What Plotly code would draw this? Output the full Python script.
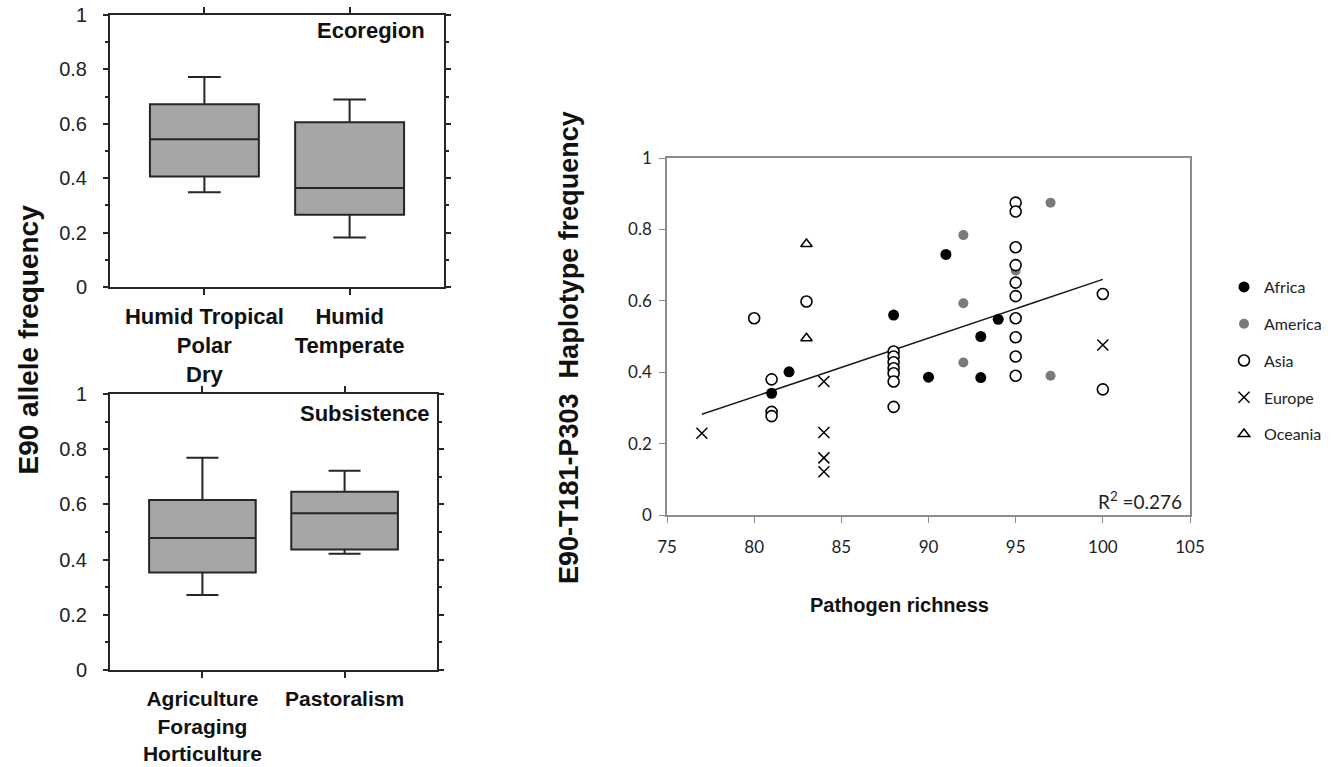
import plotly.graph_objects as go

W, H = 1338, 767

# ---------------- Data ----------------
eco_labels = ["Humid Tropical<br>Polar<br>Dry", "Humid<br>Temperate"]
eco_q1 = [0.406, 0.266]
eco_med = [0.543, 0.364]
eco_q3 = [0.672, 0.606]
eco_lo = [0.348, 0.182]
eco_hi = [0.772, 0.689]

sub_labels = ["Agriculture<br>Foraging<br>Horticulture", "Pastoralism"]
sub_q1 = [0.353, 0.437]
sub_med = [0.478, 0.568]
sub_q3 = [0.616, 0.646]
sub_lo = [0.272, 0.421]
sub_hi = [0.769, 0.722]

africa_x = [81, 82, 88, 90, 91, 93, 93, 94]
africa_y = [0.341, 0.401, 0.560, 0.386, 0.730, 0.500, 0.385, 0.548]

america_x = [92, 92, 92, 95, 97, 97]
america_y = [0.784, 0.593, 0.427, 0.685, 0.875, 0.390]

asia_x = [80, 81, 81, 81, 83, 88, 88, 88, 88, 88, 88, 88,
          95, 95, 95, 95, 95, 95, 95, 95, 95, 95, 100, 100]
asia_y = [0.551, 0.380, 0.289, 0.277, 0.598, 0.458, 0.444, 0.428, 0.411, 0.397, 0.374, 0.303,
          0.875, 0.850, 0.750, 0.700, 0.651, 0.613, 0.551, 0.498, 0.444, 0.390, 0.619, 0.352]

europe_x = [77, 84, 84, 84, 84, 100]
europe_y = [0.229, 0.374, 0.231, 0.160, 0.121, 0.476]

oceania_x = [83, 83]
oceania_y = [0.759, 0.495]

trend_x = [77, 100]
trend_y = [0.282, 0.660]

r2_text = "R<sup>2</sup> =0.276"

# ---------------- Figure ----------------
fig = go.Figure()

BOXFILL = "#a6a6a6"
DARK = "#262626"

fig.add_trace(go.Box(
    x=[0, 1], q1=eco_q1, median=eco_med, q3=eco_q3,
    lowerfence=eco_lo, upperfence=eco_hi,
    xaxis="x", yaxis="y", fillcolor=BOXFILL,
    line=dict(color=DARK, width=2), width=0.75, whiskerwidth=0.3,
    boxpoints=False, showlegend=False, hoverinfo="skip"))

fig.add_trace(go.Box(
    x=[0, 1], q1=sub_q1, median=sub_med, q3=sub_q3,
    lowerfence=sub_lo, upperfence=sub_hi,
    xaxis="x2", yaxis="y2", fillcolor=BOXFILL,
    line=dict(color=DARK, width=2), width=0.75, whiskerwidth=0.3,
    boxpoints=False, showlegend=False, hoverinfo="skip"))

# trend line
fig.add_trace(go.Scatter(x=trend_x, y=trend_y, mode="lines",
                         line=dict(color="#1a1a1a", width=1.5),
                         xaxis="x3", yaxis="y3", showlegend=False, hoverinfo="skip"))

fig.add_trace(go.Scatter(x=africa_x, y=africa_y, mode="markers", name="Africa",
                         marker=dict(symbol="circle", size=11, color="#000000"),
                         xaxis="x3", yaxis="y3", legendgroup="a"))
fig.add_trace(go.Scatter(x=america_x, y=america_y, mode="markers", name="America",
                         marker=dict(symbol="circle", size=10, color="#7a7a7a"),
                         xaxis="x3", yaxis="y3", legendgroup="b"))
fig.add_trace(go.Scatter(x=asia_x, y=asia_y, mode="markers", name="Asia",
                         marker=dict(symbol="circle", size=11, color="#ffffff",
                                     line=dict(color="#000000", width=1.6)),
                         xaxis="x3", yaxis="y3", legendgroup="c"))
fig.add_trace(go.Scatter(x=europe_x, y=europe_y, mode="markers", name="Europe",
                         marker=dict(symbol="x-thin-open", size=11, color="#000000",
                                     line=dict(color="#000000", width=1.5)),
                         xaxis="x3", yaxis="y3", legendgroup="d"))
fig.add_trace(go.Scatter(x=oceania_x, y=oceania_y, mode="markers", name="Oceania",
                         marker=dict(symbol="triangle-up-open", size=10, color="#000000",
                                     line=dict(color="#000000", width=1.5)),
                         xaxis="x3", yaxis="y3", legendgroup="e"))

LEFT_FONT = "Liberation Sans, Arial, sans-serif"
RIGHT_FONT = "Lato, Open Sans, sans-serif"

def box_xaxis(domain, labels, anchor, size=22):
    return dict(domain=domain, anchor=anchor, range=[-0.65, 1.65], automargin=False,
                tickvals=[0, 1], ticktext=labels,
                showline=True, linecolor=DARK, linewidth=2, mirror="allticks",
                ticks="outside", ticklen=6, tickcolor=DARK, tickwidth=1.5,
                ticklabelstandoff=3,
                tickfont=dict(family=LEFT_FONT, size=size, color="#111111", weight="bold"),
                showgrid=False, zeroline=False, fixedrange=True)

def box_yaxis(domain, anchor):
    return dict(domain=domain, anchor=anchor, range=[0, 1], dtick=0.2, tick0=0,
                automargin=False,
                showline=True, linecolor=DARK, linewidth=2, mirror="allticks",
                ticks="outside", ticklen=5, tickcolor=DARK, tickwidth=1.5,
                ticklabelstandoff=12,
                minor=dict(ticks="outside", dtick=0.1, ticklen=3, tickcolor=DARK),
                tickfont=dict(family=LEFT_FONT, size=20, color="#222222"),
                showgrid=False, zeroline=False, fixedrange=True)

fig.update_layout(
    width=W, height=H,
    margin=dict(l=0, r=0, t=0, b=0, autoexpand=False),
    paper_bgcolor="white", plot_bgcolor="white",
    xaxis=box_xaxis([110 / W, 444 / W], eco_labels, "y"),
    yaxis=box_yaxis([1 - 287 / H, 1 - 15 / H], "x"),
    xaxis2=box_xaxis([110 / W, 437 / W], sub_labels, "y2", size=21),
    yaxis2=box_yaxis([1 - 670 / H, 1 - 394 / H], "x2"),
    xaxis3=dict(domain=[667 / W, 1190 / W], anchor="y3", range=[75, 105], dtick=5, tick0=75,
                automargin=False,
                showline=True, linecolor="#8c8c8c", linewidth=1.5, mirror=True,
                ticks="outside", ticklen=6, tickcolor="#8c8c8c", ticklabelstandoff=10,
                tickfont=dict(family=RIGHT_FONT, size=17, color="#222222"),
                showgrid=False, zeroline=False, fixedrange=True),
    yaxis3=dict(domain=[1 - 515 / H, 1 - 158 / H], anchor="x3", range=[0, 1], dtick=0.2, tick0=0,
                automargin=False,
                showline=True, linecolor="#8c8c8c", linewidth=1.5, mirror=True,
                ticks="outside", ticklen=6, tickcolor="#8c8c8c", ticklabelstandoff=4,
                tickfont=dict(family=RIGHT_FONT, size=17, color="#222222"),
                showgrid=False, zeroline=False, fixedrange=True),
    legend=dict(x=1224 / W, y=1 - 270 / H, xanchor="left", yanchor="top",
                font=dict(family=RIGHT_FONT, size=16, color="#222222"),
                bgcolor="rgba(0,0,0,0)", tracegroupgap=13, itemclick=False),
    showlegend=True,
    annotations=[
        dict(text="E90 allele frequency", x=27.5 / W, y=1 - 340 / H, xref="paper", yref="paper",
             textangle=-90, showarrow=False, xanchor="center", yanchor="middle",
             font=dict(family=LEFT_FONT, size=28, color="#111111", weight="bold")),
        dict(text="E90-T181-P303  Haplotype frequency", x=569 / W, y=1 - 348 / H,
             xref="paper", yref="paper", textangle=-90, showarrow=False,
             xanchor="center", yanchor="middle",
             font=dict(family=LEFT_FONT, size=27, color="#111111", weight="bold")),
        dict(text="Pathogen richness", x=899 / W, y=1 - 605 / H, xref="paper", yref="paper",
             showarrow=False, xanchor="center", yanchor="middle",
             font=dict(family=LEFT_FONT, size=20, color="#111111", weight="bold")),
        dict(text="Ecoregion", x=427 / W, y=1 - 30 / H, xref="paper", yref="paper",
             showarrow=False, xanchor="right", yanchor="middle",
             font=dict(family=LEFT_FONT, size=22, color="#111111", weight="bold")),
        dict(text="Subsistence", x=432 / W, y=1 - 413 / H, xref="paper", yref="paper",
             showarrow=False, xanchor="right", yanchor="middle",
             font=dict(family=LEFT_FONT, size=22, color="#111111", weight="bold")),
        dict(text=r2_text, x=1184 / W, y=1 - 500 / H, xref="paper", yref="paper",
             showarrow=False, xanchor="right", yanchor="middle",
             font=dict(family=RIGHT_FONT, size=19, color="#222222")),
    ],
)

fig.write_html("out.html")
